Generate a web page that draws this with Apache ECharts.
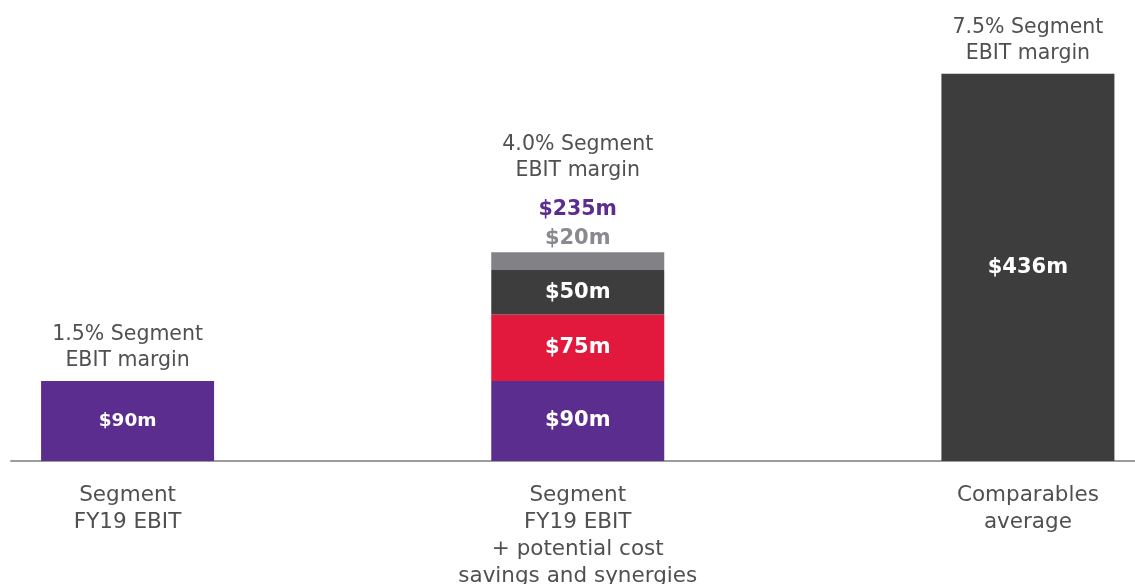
<!DOCTYPE html>
<html>
<head>
<meta charset="utf-8">
<script src="https://cdn.jsdelivr.net/npm/echarts@6/dist/echarts.min.js"></script>
<style>
  html, body { margin: 0; padding: 0; background: #fff; }
  #chart { width: 1135px; height: 584px; }
</style>
</head>
<body>
<div id="chart"></div>
<script>
// 数据
const categories = ['Segment\nFY19 EBIT', 'Segment\nFY19 EBIT\n+ potential cost\nsavings and synergies', 'Comparables\naverage'];
const baseEbit = [90, 90, 0];
const costSavings = [0, 75, 0];
const synergiesA = [0, 50, 0];
const synergiesB = [0, 20, 0];
const comparables = [0, 0, 436];
const marginNotes = ['1.5% Segment\nEBIT margin', '4.0% Segment\nEBIT margin', '7.5% Segment\nEBIT margin'];

const FONT = 'DejaVu Sans';
const chart = echarts.init(document.getElementById('chart'));

const totals = categories.map((c, i) => baseEbit[i] + costSavings[i] + synergiesA[i] + synergiesB[i] + comparables[i]);
const money = p => (p.value > 0 ? '$' + p.value + 'm' : '');

function inside(size) {
  return {
    show: true,
    position: 'inside',
    color: '#fff',
    fontFamily: FONT,
    fontWeight: 'bold',
    fontSize: size,
    formatter: money
  };
}

function barSeries(name, data, color, label) {
  return {
    name,
    type: 'bar',
    stack: 'all',
    barWidth: 173,
    data: data.slice(),
    itemStyle: { color },
    label,
    silent: true
  };
}

// 顶部注释：利润率文字（第二根柱额外显示合计）
const noteData = categories.map((c, i) => ({
  value: 0,
  label: { distance: synergiesB[i] > 0 ? 30 : 7 }
}));

const option = {
  animation: false,
  // grid 0 放柱子（每个类目宽 450px），grid 1 只画底部横线
  grid: [
    { left: -97.5, right: -118, top: 17, bottom: 123, containLabel: false, outerBoundsMode: 'none' },
    { left: 11, right: 0, top: 17, bottom: 123, containLabel: false, outerBoundsMode: 'none' }
  ],
  xAxis: [
    {
      type: 'category',
      gridIndex: 0,
      data: categories,
      axisTick: { show: false },
      axisLine: { show: false },
      axisLabel: {
        color: '#505050',
        fontFamily: FONT,
        fontSize: 21.5,
        lineHeight: 27,
        margin: 21
      }
    },
    {
      type: 'value',
      gridIndex: 1,
      min: 0,
      max: 1,
      splitLine: { show: false },
      axisTick: { show: false },
      axisLabel: { show: false },
      axisLine: { show: true, lineStyle: { color: '#9c9c9c', width: 2 } }
    }
  ],
  yAxis: [
    { type: 'value', gridIndex: 0, min: 0, max: 500, show: false, splitLine: { show: false } },
    { type: 'value', gridIndex: 1, min: 0, max: 500, show: false, splitLine: { show: false } }
  ],
  series: [
    barSeries('Segment FY19 EBIT', baseEbit, '#5b2d8f', inside(21)),
    barSeries('Cost savings', costSavings, '#e2183d', inside(21)),
    barSeries('Synergies', synergiesA, '#3d3d3d', inside(21)),
    barSeries('Other', synergiesB, '#818186', {
      show: true, position: 'top', distance: 4, color: '#8a8a8e', fontFamily: FONT,
      fontWeight: 'bold', fontSize: 21, lineHeight: 20, formatter: money
    }),
    barSeries('Comparables average', comparables, '#3d3d3d', inside(21)),
    {
      name: 'note',
      type: 'bar',
      stack: 'all',
      barWidth: 173,
      data: noteData,
      itemStyle: { color: 'transparent' },
      silent: true,
      label: {
        show: true,
        position: 'top',
        formatter: p => {
          const i = p.dataIndex;
          const lines = marginNotes[i].split('\n').map(s => '{m|' + s + '}');
          if (synergiesB[i] > 0) lines.push('{s|}', '{t|$' + totals[i] + 'm}');
          return lines.join('\n');
        },
        rich: {
          m: { fontFamily: FONT, fontSize: 20.5, color: '#505050', lineHeight: 26 },
          s: { lineHeight: 13, fontSize: 10 },
          t: { fontFamily: FONT, fontSize: 20.5, fontWeight: 'bold', color: '#5b2d8f', lineHeight: 26 }
        }
      }
    }
  ]
};

// 第一根柱的数值字号略小
option.series[0].data[0] = { value: baseEbit[0], label: { fontSize: 18.5 } };

chart.setOption(option);
</script>
</body>
</html>
